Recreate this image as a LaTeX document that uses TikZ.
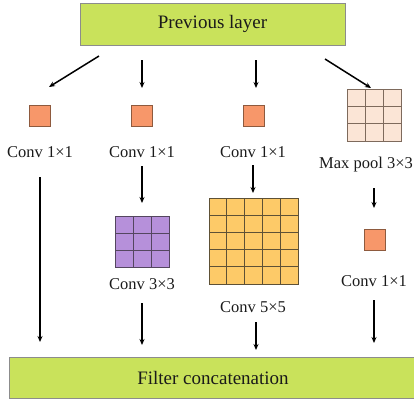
\documentclass[tikz,border=0pt]{standalone}
\usepackage{fontspec}
\setmainfont{Liberation Serif}
\usetikzlibrary{arrows.meta,calc}
\definecolor{lime}{HTML}{C9E25B}
\definecolor{limeedge}{HTML}{8C8C8C}
\definecolor{orng}{HTML}{F7976A}
\definecolor{orngedge}{HTML}{8E5A3E}
\definecolor{peach}{HTML}{FBE5D6}
\definecolor{peachedge}{HTML}{7E6A5C}
\definecolor{purp}{HTML}{B690DA}
\definecolor{purpedge}{HTML}{54465F}
\definecolor{ylw}{HTML}{FDCA68}
\definecolor{ylwedge}{HTML}{5E5136}
\definecolor{txt}{HTML}{1A1A1A}
\tikzset{
  bigbox/.style={draw=limeedge, fill=lime, line width=1pt, inner sep=0pt,
    font=\fontsize{19}{22}\selectfont, text=txt},
  unit/.style={draw=orngedge, fill=orng, line width=0.8pt, minimum size=21pt, inner sep=0pt},
  lbl/.style={font=\fontsize{16.5}{19}\selectfont, text=txt, inner sep=0pt},
  arr/.style={-{Stealth[length=6pt,width=5pt]}, line width=1.5pt, black},
  grid3/.style={draw=#1, line width=0.8pt, inner sep=0pt, path picture={
    \foreach \i in {1,2}{
      \draw[#1, line width=0.8pt] ($(path picture bounding box.south west)!\i/3!(path picture bounding box.south east)$) --
        ($(path picture bounding box.north west)!\i/3!(path picture bounding box.north east)$);
      \draw[#1, line width=0.8pt] ($(path picture bounding box.south west)!\i/3!(path picture bounding box.north west)$) --
        ($(path picture bounding box.south east)!\i/3!(path picture bounding box.north east)$);
    }}},
  grid5/.style={draw=#1, line width=0.8pt, inner sep=0pt, path picture={
    \foreach \i in {1,2,3,4}{
      \draw[#1, line width=0.8pt] ($(path picture bounding box.south west)!\i/5!(path picture bounding box.south east)$) --
        ($(path picture bounding box.north west)!\i/5!(path picture bounding box.north east)$);
      \draw[#1, line width=0.8pt] ($(path picture bounding box.south west)!\i/5!(path picture bounding box.north west)$) --
        ($(path picture bounding box.south east)!\i/5!(path picture bounding box.north east)$);
    }}}
}
\begin{document}
\begin{tikzpicture}[x=1pt,y=-1pt]
\useasboundingbox (0,0) rectangle (414,400);
% top and bottom boxes
\node[bigbox, minimum width=265pt, minimum height=42pt] (prev) at (212.5,24) {Previous layer};
\node[bigbox, minimum width=408pt, minimum height=41pt] (concat) at (213,377.5) {Filter concatenation};
% first row
\node[unit] (s1) at (40,116) {};
\node[unit] (s2) at (142,116) {};
\node[unit] (s3) at (253.5,116) {};
\node[grid3=peachedge, fill=peach, minimum width=54pt, minimum height=52pt] (mp) at (374,115) {};
\node[lbl] (l1) at (40,152) {Conv 1×1};
\node[lbl] (l2) at (142,152) {Conv 1×1};
\node[lbl] (l3) at (253,152) {Conv 1×1};
\node[lbl] (l4) at (366,165) {Max pool 3×3};
% second row
\node[grid3=purpedge, fill=purp, minimum width=54pt, minimum height=51pt] (c3) at (142,241.5) {};
\node[grid5=ylwedge, fill=ylw, minimum width=89pt, minimum height=86pt] (c5) at (253.5,241) {};
\node[unit] (s4) at (374.5,239.5) {};
\node[lbl] (l5) at (142,284) {Conv 3×3};
\node[lbl] (l6) at (253,307) {Conv 5×5};
\node[lbl] (l7) at (374,281) {Conv 1×1};
% connector end points
\coordinate (p1a) at (99,56);  \coordinate (p1b) at (49,87);
\coordinate (p2a) at (142,60); \coordinate (p2b) at (142,88);
\coordinate (p3a) at (256,60); \coordinate (p3b) at (256,88);
\coordinate (p4a) at (325,59); \coordinate (p4b) at (371,88);
\coordinate (q1a) at (40,177);  \coordinate (q1b) at (40,342);
\coordinate (q2a) at (142,166); \coordinate (q2b) at (142,203);
\coordinate (q3a) at (253,165); \coordinate (q3b) at (253,193);
\coordinate (q4a) at (374,188); \coordinate (q4b) at (374,208);
\coordinate (r2a) at (142,303); \coordinate (r2b) at (142,345);
\coordinate (r3a) at (256,322); \coordinate (r3b) at (256,350);
\coordinate (r4a) at (374,300); \coordinate (r4b) at (374,343);
\draw[arr] (p1a) -- (p1b);
\draw[arr] (p2a) -- (p2b);
\draw[arr] (p3a) -- (p3b);
\draw[arr] (p4a) -- (p4b);
\draw[arr] (q1a) -- (q1b);
\draw[arr] (q2a) -- (q2b);
\draw[arr] (q3a) -- (q3b);
\draw[arr] (q4a) -- (q4b);
\draw[arr] (r2a) -- (r2b);
\draw[arr] (r3a) -- (r3b);
\draw[arr] (r4a) -- (r4b);
\end{tikzpicture}
\end{document}
